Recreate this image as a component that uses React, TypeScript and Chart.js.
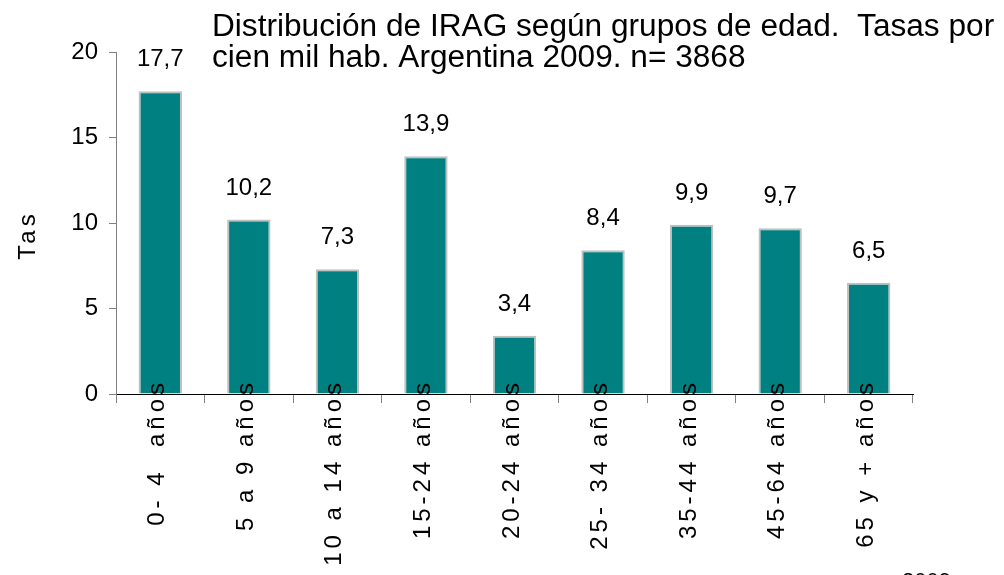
import React, { useEffect, useRef } from "react";
import { Chart, registerables } from "chart.js";

Chart.register(...registerables);

const categories = [
  "0- 4  años",
  "5 a 9 años",
  "10 a 14 años",
  "15-24 años",
  "20-24 años",
  "25- 34 años",
  "35-44 años",
  "45-64 años",
  "65 y + años",
];

const rates = [17.7, 10.2, 7.3, 13.9, 3.4, 8.4, 9.9, 9.7, 6.5];

const yTicks = [0, 5, 10, 15, 20];

const titleLines = [
  "Distribución de IRAG según grupos de edad.  Tasas por",
  "cien mil hab. Argentina 2009. n= 3868",
];

const yTitle = "Tas";
const footnote = "2009";

const FONT = "'Liberation Sans', Arial, Helvetica, sans-serif";

const fmt = (v: number) => v.toFixed(1).replace(".", ",");

const overlayPlugin = {
  id: "overlay",
  afterDraw(chart: any) {
    const ctx = chart.ctx as CanvasRenderingContext2D;
    const xScale = chart.scales.x;
    const meta = chart.getDatasetMeta(0);
    const area = chart.chartArea;
    ctx.save();
    ctx.fillStyle = "#000";

    // value labels above bars
    ctx.font = `24px ${FONT}`;
    ctx.textAlign = "center";
    ctx.textBaseline = "alphabetic";
    meta.data.forEach((bar: any, i: number) => {
      ctx.fillText(fmt(rates[i]), xScale.getPixelForValue(i), bar.y - 25);
    });

    // category labels, rotated
    (ctx as any).letterSpacing = "4px";
    categories.forEach((c, i) => {
      const x = xScale.getPixelForValue(i);
      ctx.save();
      ctx.translate(x + 4, area.bottom - 15);
      ctx.rotate(-Math.PI / 2);
      ctx.textAlign = "right";
      ctx.textBaseline = "alphabetic";
      ctx.fillText(c, 0, 0);
      ctx.restore();
    });

    // y axis title
    ctx.save();
    ctx.translate(35, 235);
    ctx.rotate(-Math.PI / 2);
    ctx.textAlign = "center";
    ctx.fillText(yTitle, 0, 0);
    ctx.restore();
    (ctx as any).letterSpacing = "0px";

    // chart title
    ctx.font = `31px ${FONT}`;
    ctx.textAlign = "left";
    titleLines.forEach((line, i) => {
      ctx.save();
      ctx.translate(212, 36 + i * 31);
      ctx.scale(1.02, 1);
      ctx.fillText(line, 0, 0);
      ctx.restore();
    });

    // footnote partly cut off at bottom
    ctx.font = `22px ${FONT}`;
    ctx.fillText(footnote, 902, 588);

    ctx.restore();
  },
};

export default function App() {
  const canvasRef = useRef<HTMLCanvasElement | null>(null);

  useEffect(() => {
    if (!canvasRef.current) return;
    const chart = new Chart(canvasRef.current, {
      type: "bar",
      data: {
        labels: categories,
        datasets: [
          {
            data: rates,
            backgroundColor: "#008080",
            borderColor: "#c0c0c0",
            borderWidth: 2,
            borderSkipped: "bottom",
            barPercentage: 0.49,
            categoryPercentage: 1,
          },
        ],
      },
      options: {
        animation: false,
        responsive: true,
        maintainAspectRatio: false,
        layout: { padding: { top: 52, right: 91, left: 0, bottom: 0 } },
        plugins: {
          legend: { display: false },
          tooltip: { enabled: false },
          title: { display: false },
        },
        scales: {
          x: {
            offset: true,
            grid: {
              offset: true,
              drawOnChartArea: false,
              drawTicks: true,
              tickLength: 9,
              color: "#808080",
            },
            border: { color: "#000", width: 1 },
            ticks: { display: false },
            afterFit: (s: any) => {
              s.height = 181;
            },
          },
          y: {
            min: 0,
            max: 20,
            afterBuildTicks: (s: any) => {
              s.ticks = yTicks.map((v) => ({ value: v }));
            },
            ticks: {
              font: { family: FONT, size: 24 },
              color: "#000",
              padding: 11,
            },
            grid: {
              drawOnChartArea: false,
              tickLength: 7,
              color: "#808080",
            },
            border: { color: "#808080", width: 1 },
            afterFit: (s: any) => {
              s.width = 116;
            },
          },
        },
      },
      plugins: [overlayPlugin],
    });
    return () => chart.destroy();
  }, []);

  return (
    <div
      style={{
        position: "fixed",
        left: 0,
        top: 0,
        width: 1004,
        height: 575,
        background: "#fff",
      }}
    >
      <canvas ref={canvasRef} />
    </div>
  );
}
